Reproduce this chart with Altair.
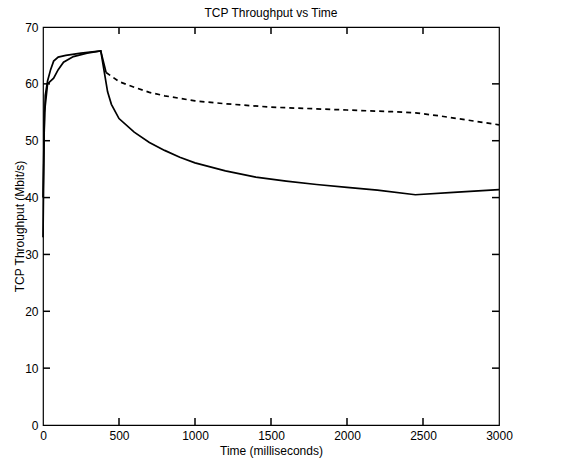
import altair as alt
import pandas as pd

# ---- data ----
time_a = [0, 8, 15, 30, 50, 70, 100, 150, 250, 380, 425, 450, 500, 600, 700, 800,
          900, 1000, 1200, 1400, 1600, 1800, 2000, 2200, 2450, 2700, 3000]
thr_a = [33, 52, 58, 60.5, 62.5, 64.0, 64.7, 65.0, 65.4, 65.8, 58.6, 56.4, 53.9, 51.5,
         49.7, 48.3, 47.1, 46.1, 44.7, 43.6, 42.9, 42.3, 41.8, 41.3, 40.5, 40.9, 41.4]

time_b_early = [0, 10, 30, 70, 100, 135, 200, 290, 380, 415]
thr_b_early = [40, 55, 60, 61, 62.5, 63.8, 64.8, 65.4, 65.8, 62.0]

time_b_late = [415, 500, 600, 700, 800, 1000, 1200, 1500, 2000, 2300, 2450, 2600, 2800, 3000]
thr_b_late = [62.0, 60.4, 59.4, 58.5, 57.9, 57.0, 56.5, 55.9, 55.4, 55.1, 54.9, 54.4, 53.6, 52.8]

x_ticks = [0, 500, 1000, 1500, 2000, 2500, 3000]
y_ticks = [0, 10, 20, 30, 40, 50, 60, 70]

W, H = 456, 398
X_MAX, Y_MAX = 3000, 70
FONT = "Liberation Sans"

df_a = pd.DataFrame({"t": time_a, "v": thr_a})
df_be = pd.DataFrame({"t": time_b_early, "v": thr_b_early})
df_bl = pd.DataFrame({"t": time_b_late, "v": thr_b_late})

# tick marks (inward) expressed through the scales
TL = 7
dy = TL * Y_MAX / H
dx = TL * X_MAX / W
inner_x = x_ticks[1:-1]
inner_y = y_ticks[1:-1]
n_x, n_y = len(inner_x), len(inner_y)
df_xt = pd.DataFrame({
    "t": [float(v) for v in inner_x + inner_x],
    "y0": [0.0] * n_x + [float(Y_MAX)] * n_x,
    "y1": [dy] * n_x + [Y_MAX - dy] * n_x,
})
df_yt = pd.DataFrame({
    "v": [float(v) for v in inner_y + inner_y],
    "x0": [0.0] * n_y + [float(X_MAX)] * n_y,
    "x1": [dx] * n_y + [X_MAX - dx] * n_y,
})

xscale = alt.Scale(domain=[0, X_MAX], nice=False, zero=False)
yscale = alt.Scale(domain=[0, Y_MAX], nice=False, zero=False)

xaxis = alt.Axis(values=x_ticks, format="d", ticks=False, domain=False, grid=False,
                 labelFont=FONT, labelFontSize=12, labelColor="black", labelPadding=5,
                 title="Time (milliseconds)", titleFont=FONT, titleFontSize=12,
                 titleFontWeight="normal", titleColor="black", titlePadding=4,
                 labelFlush=False)
yaxis = alt.Axis(values=y_ticks, format="d", ticks=False, domain=False, grid=False,
                 labelFont=FONT, labelFontSize=12, labelColor="black", labelPadding=5,
                 title="TCP Throughput (Mbit/s)", titleFont=FONT, titleFontSize=12,
                 titleFontWeight="normal", titleColor="black", titlePadding=-2,
                 labelFlush=False)

line_a = alt.Chart(df_a).mark_line(color="black", strokeWidth=1.7).encode(
    x=alt.X("t:Q", scale=xscale, axis=xaxis),
    y=alt.Y("v:Q", scale=yscale, axis=yaxis),
)
line_be = alt.Chart(df_be).mark_line(color="black", strokeWidth=1.7).encode(
    x=alt.X("t:Q", scale=xscale), y=alt.Y("v:Q", scale=yscale))
line_bl = alt.Chart(df_bl).mark_line(color="black", strokeWidth=1.7,
                                      strokeDash=[5, 4]).encode(
    x=alt.X("t:Q", scale=xscale), y=alt.Y("v:Q", scale=yscale))

ticks_x = alt.Chart(df_xt).mark_rule(color="black", strokeWidth=1.5, opacity=1).encode(
    x=alt.X("t:Q", scale=xscale),
    y=alt.Y("y0:Q", scale=yscale), y2=alt.Y2("y1:Q"))
ticks_y = alt.Chart(df_yt).mark_rule(color="black", strokeWidth=1.5, opacity=1).encode(
    y=alt.Y("v:Q", scale=yscale),
    x=alt.X("x0:Q", scale=xscale), x2=alt.X2("x1:Q"))

chart = alt.layer(
    line_a, line_be, line_bl, ticks_x, ticks_y
).properties(
    width=W, height=H,
    title=alt.TitleParams("TCP Throughput vs  Time", font=FONT, fontSize=12,
                          fontWeight="normal", color="black", offset=1,
                          anchor="middle"),
    autosize=alt.AutoSizeParams(type="none"),
    padding={"left": 43, "top": 27, "right": 73, "bottom": 38},
    background="white",
).configure_view(stroke="black", strokeWidth=1.2)

chart.save("out.html", embed_options={"renderer": "svg", "actions": False})
